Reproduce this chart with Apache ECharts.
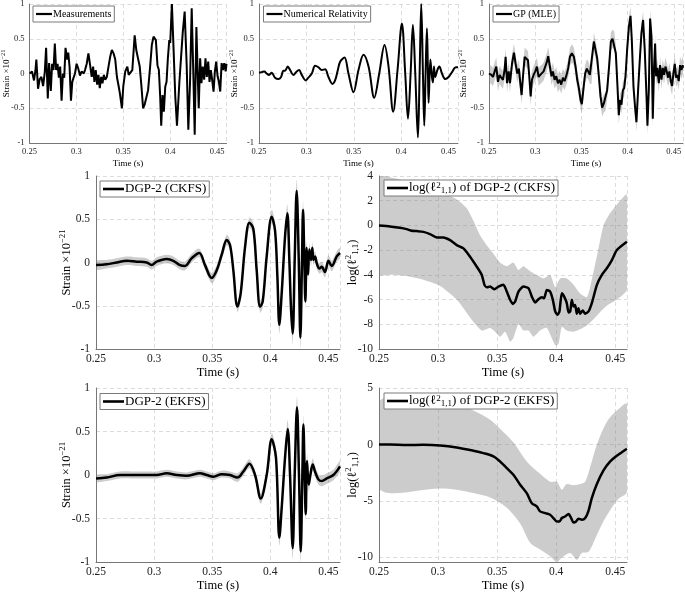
<!DOCTYPE html>
<html>
<head>
<meta charset="utf-8">
<script src="https://cdn.jsdelivr.net/npm/echarts@6/dist/echarts.min.js"></script>
<style>html,body{margin:0;padding:0;background:#fff}#c{width:685px;height:592px}</style>
</head>
<body>
<div id="c"></div>
<script>
// ---------------- data (time in s, strain x1e-21) ----------------
const timeTicks = [0.25, 0.3, 0.35, 0.4, 0.45];

const measurements = [[0.2502,0.00],[0.2527,0.03],[0.2548,-0.10],[0.2563,0.04],[0.2573,0.20],[0.2591,-0.22],[0.2609,-0.08],[0.2627,-0.05],[0.2645,-0.18],[0.2663,0.02],[0.2677,0.37],[0.2695,-0.36],[0.2709,0.15],[0.2727,-0.25],[0.2741,0.14],[0.2756,0.05],[0.2770,0.43],[0.2784,0.05],[0.2799,0.14],[0.2813,-0.06],[0.2827,0.10],[0.2842,-0.39],[0.2856,0.00],[0.2870,-0.06],[0.2884,0.37],[0.2902,0.20],[0.2913,0.30],[0.2927,0.10],[0.2942,-0.39],[0.2956,-0.12],[0.2970,-0.06],[0.2985,0.00],[0.3002,0.14],[0.3020,0.07],[0.3038,-0.03],[0.3056,0.03],[0.3078,0.00],[0.3092,0.05],[0.3110,0.14],[0.3128,0.29],[0.3146,0.12],[0.3163,-0.05],[0.3178,0.10],[0.3192,-0.12],[0.3206,0.05],[0.3221,-0.16],[0.3235,-0.02],[0.3249,-0.21],[0.3264,-0.05],[0.3278,-0.14],[0.3292,-0.02],[0.3307,-0.09],[0.3324,-0.05],[0.3342,0.10],[0.3360,0.24],[0.3378,0.34],[0.3396,0.29],[0.3414,0.20],[0.3432,-0.05],[0.3450,-0.18],[0.3464,-0.29],[0.3485,-0.50],[0.3500,-0.18],[0.3521,0.03],[0.3543,0.10],[0.3557,-0.02],[0.3578,-0.02],[0.3596,0.05],[0.3621,0.55],[0.3639,0.33],[0.3657,0.35],[0.3675,0.10],[0.3693,-0.18],[0.3711,-0.50],[0.3729,-0.44],[0.3746,-0.45],[0.3764,-0.24],[0.3786,0.10],[0.3804,0.41],[0.3822,0.53],[0.3847,0.48],[0.3864,0.12],[0.3879,0.05],[0.3893,-0.33],[0.3904,-0.75],[0.3918,-0.31],[0.3932,-0.55],[0.3947,-0.19],[0.3961,-0.12],[0.3975,0.22],[0.3990,0.48],[0.4000,0.44],[0.4018,1.00],[0.4036,0.34],[0.4054,-0.33],[0.4072,-0.75],[0.4097,-0.14],[0.4133,0.58],[0.4154,0.89],[0.4176,0.10],[0.4193,-0.81],[0.4211,-0.14],[0.4229,0.94],[0.4247,-0.04],[0.4261,-0.88],[0.4279,0.67],[0.4294,-0.05],[0.4304,-0.50],[0.4319,0.22],[0.4333,-0.14],[0.4347,0.10],[0.4362,-0.09],[0.4376,0.22],[0.4390,-0.05],[0.4405,0.17],[0.4419,-0.12],[0.4433,0.05],[0.4447,-0.09],[0.4462,-0.26],[0.4476,0.03],[0.4490,0.17],[0.4505,-0.04],[0.4519,-0.12],[0.4533,-0.26],[0.4548,0.15],[0.4562,0.05],[0.4576,0.15],[0.4591,0.03],[0.4600,0.14]];

const numericalRelativity = [[0.25,0.01],[0.2528,0.02],[0.2556,0.03],[0.2581,0.0],[0.2606,-0.02],[0.2634,0.01],[0.2669,-0.06],[0.2704,-0.08],[0.2733,-0.05],[0.2757,0.04],[0.2775,0.04],[0.2803,0.10],[0.2828,0.05],[0.2863,-0.02],[0.2898,0.03],[0.2923,0.05],[0.2951,-0.02],[0.2993,-0.10],[0.3021,-0.06],[0.3057,0.0],[0.3092,0.11],[0.3127,0.09],[0.3162,0.05],[0.3198,0.06],[0.3233,-0.05],[0.3275,-0.15],[0.3303,-0.10],[0.3332,0.05],[0.3356,0.17],[0.3402,0.23],[0.3444,0.0],[0.3497,-0.27],[0.3550,0.05],[0.3603,0.27],[0.3656,0.10],[0.3716,-0.35],[0.3769,0.0],[0.3825,0.41],[0.3867,0.10],[0.3916,-0.55],[0.3962,0.05],[0.4008,0.72],[0.4043,0.0],[0.4072,-0.65],[0.4100,0.0],[0.4124,0.70],[0.4149,0.0],[0.4177,-0.92],[0.4195,0.0],[0.4212,1.0],[0.4230,0.0],[0.4244,-0.75],[0.4258,0.0],[0.4272,0.65],[0.4283,0.0],[0.4290,-0.42],[0.4308,0.20],[0.4325,-0.05],[0.4336,-0.13],[0.4346,0.10],[0.4360,-0.05],[0.4382,0.05],[0.4403,0.10],[0.4431,0.0],[0.4466,-0.08],[0.4501,-0.05],[0.4537,0.02],[0.4565,0.08],[0.4585,0.09],[0.46,0.09]];

const gpMle = [[0.25,0.0],[0.2525,-0.02],[0.2543,-0.05],[0.2561,0.03],[0.2579,0.10],[0.2597,-0.12],[0.2615,-0.02],[0.2633,-0.06],[0.2651,-0.09],[0.2669,0.05],[0.2680,0.24],[0.2695,-0.14],[0.2713,0.03],[0.2727,-0.14],[0.2749,0.14],[0.2770,0.30],[0.2788,0.14],[0.2806,0.0],[0.2824,0.07],[0.2839,-0.14],[0.2853,-0.31],[0.2868,-0.04],[0.2886,0.24],[0.2904,0.22],[0.2922,0.19],[0.2936,-0.04],[0.2951,-0.33],[0.2965,-0.09],[0.2983,-0.02],[0.3001,0.03],[0.3019,0.10],[0.3037,-0.05],[0.3055,-0.02],[0.3073,0.0],[0.3091,0.03],[0.3109,0.10],[0.3127,0.17],[0.3141,0.25],[0.3159,0.10],[0.3177,-0.04],[0.3192,0.03],[0.3210,-0.09],[0.3228,-0.04],[0.3246,-0.14],[0.3264,-0.09],[0.3282,-0.16],[0.3300,-0.06],[0.3318,-0.11],[0.3340,-0.02],[0.3358,0.08],[0.3376,0.24],[0.3397,0.29],[0.3419,0.24],[0.3437,0.10],[0.3455,-0.09],[0.3473,-0.21],[0.3491,-0.38],[0.3505,-0.44],[0.3523,-0.21],[0.3541,0.0],[0.3559,0.07],[0.3574,0.05],[0.3592,-0.02],[0.3610,-0.02],[0.3635,0.46],[0.3653,0.34],[0.3671,0.22],[0.3689,-0.04],[0.3707,-0.33],[0.3725,-0.49],[0.3743,-0.43],[0.3761,-0.41],[0.3779,-0.24],[0.3801,0.12],[0.3819,0.46],[0.3837,0.50],[0.3855,0.48],[0.3873,0.29],[0.3891,-0.19],[0.3905,-0.60],[0.3920,-0.38],[0.3934,-0.45],[0.3949,-0.24],[0.3963,-0.21],[0.3978,-0.04],[0.3995,0.34],[0.4014,0.67],[0.4032,0.83],[0.4046,0.48],[0.4064,-0.19],[0.4082,-0.50],[0.4096,-0.70],[0.4114,-0.24],[0.4132,0.19],[0.4150,0.58],[0.4168,0.77],[0.4186,0.34],[0.4205,-0.33],[0.4215,-0.75],[0.4230,-0.24],[0.4244,0.79],[0.4259,0.53],[0.4273,-0.65],[0.4287,0.10],[0.4298,0.43],[0.4309,-0.04],[0.4323,0.08],[0.4338,-0.14],[0.4352,0.12],[0.4367,-0.09],[0.4381,0.08],[0.4395,-0.02],[0.4410,0.10],[0.4424,0.03],[0.4439,-0.06],[0.4453,0.03],[0.4468,-0.11],[0.4482,-0.18],[0.4496,0.0],[0.4511,0.14],[0.4525,-0.06],[0.4540,-0.02],[0.4554,-0.11],[0.4568,0.12],[0.4583,0.05],[0.4597,0.12],[0.46,0.08]];
const gpHalfWidth = 0.13;

// [time, mean, half-width of grey band]
const dgpCkfs = [[0.25,-0.03,0.05],[0.2592,-0.02,0.05],[0.2678,0.0,0.05],[0.2764,0.02,0.05],[0.2850,0.01,0.05],[0.2936,0.0,0.05],[0.2979,-0.03,0.05],[0.3022,0.01,0.05],[0.3108,0.04,0.05],[0.3166,0.02,0.05],[0.3223,-0.03,0.05],[0.3266,-0.04,0.05],[0.3324,0.05,0.05],[0.3389,0.11,0.05],[0.3438,-0.03,0.05],[0.3496,-0.18,0.06],[0.3539,-0.09,0.06],[0.3582,0.09,0.06],[0.3625,0.26,0.06],[0.3654,0.20,0.06],[0.3682,-0.09,0.06],[0.3717,-0.51,0.06],[0.3745,-0.36,0.06],[0.3783,0.18,0.06],[0.3820,0.46,0.06],[0.3854,0.39,0.06],[0.3883,-0.09,0.06],[0.3912,-0.51,0.07],[0.3935,-0.45,0.07],[0.3969,0.07,0.07],[0.4012,0.53,0.08],[0.4041,0.37,0.08],[0.4061,-0.16,0.09],[0.4078,-0.72,0.1],[0.4098,-0.36,0.1],[0.4127,0.30,0.1],[0.4147,0.57,0.1],[0.4164,0.03,0.1],[0.4179,-0.55,0.11],[0.4193,-0.82,0.12],[0.4210,0.03,0.12],[0.4227,0.83,0.13],[0.4245,0.03,0.12],[0.4259,-0.87,0.12],[0.4273,0.03,0.1],[0.4282,0.61,0.1],[0.4293,0.03,0.09],[0.4302,-0.45,0.09],[0.4313,0.17,0.08],[0.4325,-0.14,0.08],[0.4336,0.15,0.07],[0.4351,0.03,0.07],[0.4362,0.17,0.07],[0.4371,0.03,0.06],[0.4385,0.07,0.06],[0.4400,-0.01,0.06],[0.4423,-0.07,0.06],[0.4443,-0.05,0.06],[0.4471,-0.11,0.06],[0.4500,0.02,0.06],[0.4529,-0.04,0.06],[0.4572,0.07,0.06],[0.4600,0.11,0.06]];

const dgpEkfs = [[0.25,-0.04,0.04],[0.2592,-0.03,0.04],[0.2707,0.0,0.04],[0.2821,0.0,0.04],[0.2936,0.0,0.04],[0.3022,0.0,0.04],[0.3108,0.02,0.04],[0.3194,0.0,0.04],[0.3280,-0.01,0.04],[0.3395,0.02,0.04],[0.3453,0.0,0.04],[0.3510,-0.02,0.04],[0.3582,0.01,0.04],[0.3654,0.0,0.04],[0.3717,-0.03,0.05],[0.3768,0.04,0.05],[0.3820,0.13,0.05],[0.3869,0.0,0.05],[0.3918,-0.27,0.06],[0.3969,0.0,0.06],[0.4012,0.41,0.07],[0.4049,0.20,0.08],[0.4078,-0.72,0.09],[0.4098,-0.38,0.09],[0.4127,0.20,0.1],[0.4150,0.53,0.1],[0.4170,0.0,0.1],[0.4193,-0.84,0.12],[0.4210,0.0,0.12],[0.4230,0.78,0.12],[0.4247,0.0,0.12],[0.4262,-0.88,0.12],[0.4276,0.0,0.1],[0.4285,0.58,0.1],[0.4296,0.0,0.09],[0.4305,-0.45,0.09],[0.4316,0.16,0.08],[0.4331,-0.11,0.08],[0.4345,0.0,0.07],[0.4365,0.12,0.07],[0.4385,0.04,0.06],[0.4414,-0.05,0.06],[0.4443,-0.07,0.06],[0.4486,-0.04,0.06],[0.4543,0.0,0.06],[0.4600,0.10,0.06]];

const logCkfs = [[0.25,0.0],[0.2593,-0.08],[0.2678,-0.19],[0.2734,-0.30],[0.2777,-0.43],[0.2819,-0.46],[0.2876,-0.52],[0.2932,-0.70],[0.2989,-0.97],[0.3045,-0.97],[0.3102,-1.19],[0.3158,-1.59],[0.3215,-1.86],[0.3271,-2.53],[0.3328,-3.34],[0.3370,-4.0],[0.3393,-4.81],[0.3412,-5.0],[0.3441,-4.95],[0.3477,-5.16],[0.3511,-4.95],[0.3554,-4.81],[0.3582,-5.35],[0.3610,-6.02],[0.3633,-6.35],[0.3653,-6.16],[0.3681,-5.35],[0.3723,-4.95],[0.3766,-5.08],[0.3794,-5.76],[0.3822,-6.24],[0.3850,-5.97],[0.3879,-5.81],[0.3898,-5.89],[0.3921,-5.22],[0.3949,-5.35],[0.3972,-6.02],[0.3992,-6.96],[0.4011,-7.23],[0.4028,-6.96],[0.4048,-5.49],[0.4068,-5.76],[0.4090,-6.29],[0.4105,-7.05],[0.4119,-6.96],[0.4133,-6.02],[0.4147,-6.56],[0.4161,-6.43],[0.4175,-7.15],[0.4189,-6.70],[0.4203,-7.15],[0.4226,-6.88],[0.4246,-7.15],[0.4274,-6.96],[0.4302,-6.29],[0.4345,-4.81],[0.4387,-4.0],[0.4429,-3.47],[0.4472,-2.80],[0.4514,-1.99],[0.4599,-1.32]];
const logCkfsUpper = [[0.25,4.2],[0.2593,3.9],[0.2734,3.6],[0.2876,3.2],[0.3017,2.8],[0.3158,2.1],[0.3243,1.4],[0.3299,0.4],[0.3356,-0.8],[0.3412,-1.6],[0.3469,-2.3],[0.3525,-3.0],[0.3582,-3.3],[0.3638,-3.0],[0.3681,-3.6],[0.3723,-3.3],[0.3780,-3.7],[0.3836,-4.0],[0.3893,-4.3],[0.3949,-4.0],[0.3992,-5.0],[0.4034,-4.3],[0.4090,-4.3],[0.4147,-4.8],[0.4203,-5.5],[0.4260,-5.8],[0.4288,-5.0],[0.4345,-2.5],[0.4401,0.0],[0.4458,1.0],[0.4542,2.0],[0.4599,2.5]];
const logCkfsLower = [[0.25,-4.0],[0.2593,-4.0],[0.2734,-4.1],[0.2876,-4.4],[0.3017,-4.9],[0.3158,-6.0],[0.3299,-7.8],[0.3370,-8.5],[0.3441,-8.3],[0.3483,-8.6],[0.3525,-9.0],[0.3568,-8.6],[0.3610,-9.4],[0.3638,-9.1],[0.3681,-8.0],[0.3723,-8.5],[0.3766,-8.5],[0.3808,-9.0],[0.3864,-8.5],[0.3921,-8.3],[0.3992,-9.7],[0.4020,-9.6],[0.4048,-8.2],[0.4090,-8.5],[0.4147,-8.6],[0.4203,-8.4],[0.4260,-8.1],[0.4316,-7.6],[0.4373,-7.0],[0.4429,-6.5],[0.4514,-6.0],[0.4599,-5.2]];

const logEkfs = [[0.25,0.0],[0.2593,0.0],[0.2734,-0.05],[0.2876,-0.02],[0.3017,-0.08],[0.3158,-0.26],[0.3299,-0.55],[0.3384,-0.76],[0.3469,-1.05],[0.3525,-1.5],[0.3582,-2.09],[0.3638,-2.68],[0.3695,-3.56],[0.3751,-4.3],[0.3794,-5.19],[0.3836,-5.48],[0.3864,-5.92],[0.3907,-6.07],[0.3949,-6.22],[0.3977,-6.51],[0.4006,-6.81],[0.4028,-6.81],[0.4048,-6.51],[0.4076,-6.37],[0.4105,-6.16],[0.4127,-6.51],[0.4147,-6.9],[0.4169,-6.81],[0.4189,-6.57],[0.4218,-6.66],[0.4246,-6.51],[0.4274,-5.87],[0.4302,-4.74],[0.4345,-3.5],[0.4401,-2.3],[0.4458,-1.5],[0.4514,-1.0],[0.4599,-0.37]];
const logEkfsUpper = [[0.25,3.8],[0.3017,3.8],[0.3158,3.7],[0.3299,3.0],[0.3441,2.2],[0.3525,1.4],[0.3638,0.2],[0.3751,-1.5],[0.3864,-2.6],[0.3949,-3.3],[0.4006,-3.3],[0.4048,-4.0],[0.4090,-3.5],[0.4147,-3.6],[0.4203,-3.5],[0.4246,-3.3],[0.4288,-2.0],[0.4345,0.0],[0.4429,2.0],[0.4514,3.0],[0.4599,3.6]];
const logEkfsLower = [[0.25,-3.9],[0.3017,-3.9],[0.3158,-4.0],[0.3299,-4.3],[0.3441,-4.7],[0.3582,-5.6],[0.3695,-7.0],[0.3780,-8.7],[0.3864,-9.3],[0.3949,-9.9],[0.4006,-10.4],[0.4048,-10.0],[0.4119,-9.6],[0.4175,-10.2],[0.4218,-9.6],[0.4274,-9.5],[0.4345,-8.0],[0.4401,-6.8],[0.4458,-5.8],[0.4528,-4.8],[0.4599,-4.2]];

// ---------------- layout / style ----------------
const FONT = 'Liberation Serif';
const BAND = 'rgba(128,128,128,0.4)';
const grids = [
  {left:29.5, top:4, width:197, height:139},
  {left:259, top:4, width:199, height:139},
  {left:489, top:4, width:194, height:139},
  {left:96, top:176, width:244, height:173},
  {left:379, top:176, width:248, height:173},
  {left:96, top:388, width:244, height:174},
  {left:379, top:388, width:248, height:174}
];
const small = [true,true,true,false,false,false,false];

const strainName = 'Strain ×10{sup|−21}';
const logName = 'log(ℓ{sup|2}{sub|1,1})';

function richStyle(fs){
  return {
    sup:{fontFamily:FONT,fontSize:fs*0.7,verticalAlign:'top',lineHeight:fs*0.8,color:'#000'},
    sub:{fontFamily:FONT,fontSize:fs*0.7,verticalAlign:'bottom',lineHeight:fs*0.8,color:'#000'}
  };
}

function xAxis(i){
  const s = small[i];
  const fs = s ? 8.5 : 11.5;
  return {
    type:'value', gridIndex:i, min:0.25, max:0.46, interval:0.05,
    name:'Time (s)', nameLocation:'middle', nameGap: s ? 16 : 17, nameMoveOverlap:false,
    nameTextStyle:{fontFamily:FONT, fontSize: s ? 9 : 12.5, color:'#000'},
    axisLine:{show:true, onZero:false, lineStyle:{color:'#777', width:1}},
    axisTick:{show:false},
    axisLabel:{fontFamily:FONT, fontSize:fs, color:'#222', margin:4,
      formatter:v => timeTicks.some(t=>Math.abs(t-v)<1e-6) ? String(+v.toFixed(2)) : ''},
    splitLine:{show:true, lineStyle:{color:'#dcdcdc', type:[4,3], width:1}}
  };
}

function yAxis(i, opt){
  const s = small[i];
  const fs = s ? 8.5 : 11.5;
  const nfs = s ? 9 : 12.5;
  const ax = {
    type:'value', gridIndex:i,
    name:opt.name, nameLocation:'middle', nameGap:opt.gap, nameMoveOverlap:false,
    nameTextStyle:{fontFamily:FONT, fontSize:nfs, color:'#000', lineHeight:nfs*1.3, rich:richStyle(nfs)},
    axisLine:{show:true, onZero:false, lineStyle:{color:'#777', width:1}},
    axisTick:{show:false},
    axisLabel:{fontFamily:FONT, fontSize:fs, color:'#222', margin:s?5:6,
      formatter:v => (opt.labels.some(t=>Math.abs(t-v)<1e-6) ? String(+v.toFixed(2)) : '')},
    splitLine:{show:true, lineStyle:{color:'#dcdcdc', type:[4,3], width:1}}
  };
  Object.assign(ax, opt.range);
  return ax;
}

const strainLabels = [-1,-0.5,0,0.5,1];
const yAxes = [
  yAxis(0,{name:strainName, gap:17, labels:strainLabels, range:{min:-1,max:1,interval:0.5}}),
  yAxis(1,{name:strainName, gap:19, labels:strainLabels, range:{min:-1,max:1,interval:0.5}}),
  yAxis(2,{name:strainName, gap:20, labels:strainLabels, range:{min:-1,max:1,interval:0.5}}),
  yAxis(3,{name:strainName, gap:21.5, labels:strainLabels, range:{min:-1,max:1,interval:0.5}}),
  yAxis(4,{name:logName, gap:18.5, labels:[-10,-8,-6,-4,-2,0,2,4], range:{min:-10,max:4,interval:2}}),
  yAxis(5,{name:strainName, gap:21.5, labels:strainLabels, range:{min:-1,max:1,interval:0.5}}),
  yAxis(6,{name:logName, gap:18.5, labels:[-10,-5,0,5], range:{min:-10.4,max:5,splitNumber:3}})
];

function lineSeries(i, name, data, width, smooth){
  return {type:'line', name, xAxisIndex:i, yAxisIndex:i, data:data.map(p=>[p[0],p[1]]),
    showSymbol:false, symbol:'none', smooth:smooth||false, clip:true, z:3,
    lineStyle:{color:'#000', width}, itemStyle:{color:'#000'}, animation:false};
}
function bandSeries(i, upper, lower, smooth){
  return {type:'custom', xAxisIndex:i, yAxisIndex:i, silent:true, z:1, animation:false,
    data:[upper[0]], encode:{x:0,y:1},
    renderItem:(params, api) => {
      const cs = params.coordSys;
      const pts = upper.map(p=>api.coord(p)).concat(lower.slice().reverse().map(p=>api.coord(p)));
      return {type:'polygon', shape:{points:pts, smooth:smooth||0}, style:{fill:BAND},
        clipPath:{type:'rect', shape:{x:cs.x, y:cs.y, width:cs.width, height:cs.height}}};
    }};
}
const up = (arr, hw) => arr.map(p=>[p[0], p[1] + (hw!==undefined ? hw : p[2])]);
const lo = (arr, hw) => arr.map(p=>[p[0], p[1] - (hw!==undefined ? hw : p[2])]);

const series = [
  lineSeries(0,'Measurements',measurements,2),
  lineSeries(1,'Numerical Relativity',numericalRelativity,2,0.35),
  bandSeries(2, up(gpMle,gpHalfWidth), lo(gpMle,gpHalfWidth)),
  lineSeries(2,'GP (MLE)',gpMle,2),
  bandSeries(3, up(dgpCkfs), lo(dgpCkfs), 0.3),
  lineSeries(3,'DGP-2 (CKFS)',dgpCkfs,2.5,0.35),
  bandSeries(4, logCkfsUpper, logCkfsLower, 0.2),
  lineSeries(4,'logCKFS',logCkfs,2.5,0.2),
  bandSeries(5, up(dgpEkfs), lo(dgpEkfs), 0.3),
  lineSeries(5,'DGP-2 (EKFS)',dgpEkfs,2.5,0.35),
  bandSeries(6, logEkfsUpper, logEkfsLower, 0.3),
  lineSeries(6,'logEKFS',logEkfs,2.5,0.3)
];

function legend(name, left, top, s){
  const fs = s ? 10 : 13;
  return {
    data:[{name, icon:'rect'}], left, top, orient:'horizontal', selectedMode:false,
    backgroundColor:'#fff', borderColor:'#7a7a7a', borderWidth:1, borderRadius:0,
    padding: s ? [2,3,2,3] : [1,3,1,3], itemGap:0,
    itemWidth: s ? 16 : 21, itemHeight: s ? 2.2 : 2.6,
    itemStyle:{color:'#000', borderWidth:0},
    formatter: n => n==='logCKFS' ? 'log(ℓ{sup|2}{sub|1,1}) of DGP-2 (CKFS)' : (n==='logEKFS' ? 'log(ℓ{sup|2}{sub|1,1}) of DGP-2 (EKFS)' : n),
    textStyle:{fontFamily:FONT, fontSize:fs, color:'#000', lineHeight: s?12:14, padding:[0,0,0,-4], rich:richStyle(fs)}
  };
}

const option = {
  backgroundColor:'#fff',
  animation:false,
  grid: grids.map(g => Object.assign({outerBoundsMode:'none', containLabel:false}, g)),
  xAxis: grids.map((g,i)=>xAxis(i)),
  yAxis: yAxes,
  legend: [
    legend('Measurements', 33, 6, true),
    legend('Numerical Relativity', 263.5, 6, true),
    legend('GP (MLE)', 493, 6, true),
    legend('DGP-2 (CKFS)', 100, 181, false),
    legend('logCKFS', 384, 180, false),
    legend('DGP-2 (EKFS)', 100, 393.5, false),
    legend('logEKFS', 384, 393, false)
  ],
  series
};

const chart = echarts.init(document.getElementById('c'), null, {renderer:'canvas'});
chart.setOption(option);
</script>
</body>
</html>
